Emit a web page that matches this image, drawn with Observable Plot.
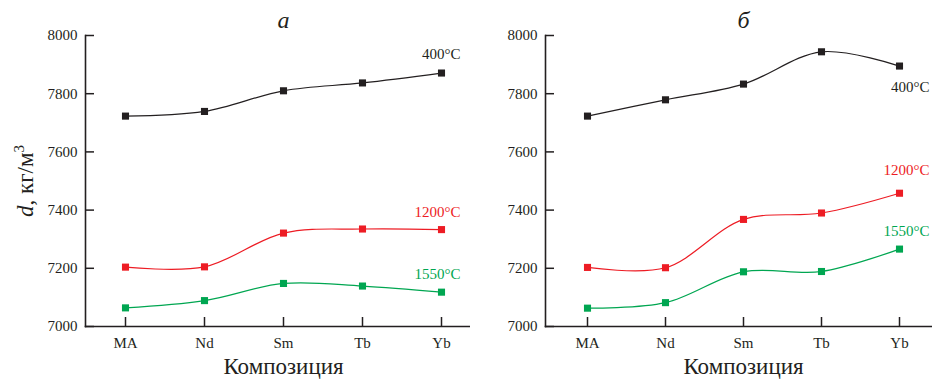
<!DOCTYPE html>
<html><head><meta charset="utf-8">
<script src="https://cdn.jsdelivr.net/npm/d3@7"></script>
<script src="https://cdn.jsdelivr.net/npm/@observablehq/plot@0.6"></script>
<style>
body{margin:0;background:#fff;}
#wrap{position:relative;width:932px;height:380px;display:flex;}
#wrap svg{display:block;}
</style></head><body><div id="wrap"></div>
<script>
const categories = ["MA", "Nd", "Sm", "Tb", "Yb"];
const temps = ["400°C", "1200°C", "1550°C"];
const yTicks = [7000, 7200, 7400, 7600, 7800, 8000];
// panel а
const a400 = [7723, 7739, 7810, 7837, 7871];
const a1200 = [7204, 7205, 7321, 7335, 7333];
const a1550 = [7064, 7089, 7148, 7139, 7118];
// panel б
const b400 = [7723, 7779, 7833, 7944, 7895];
const b1200 = [7203, 7202, 7368, 7390, 7458];
const b1550 = [7063, 7082, 7188, 7189, 7266];
const panelTitles = ["а", "б"];
const xLabel = "Композиция";

const colors = ["#231f20", "#ed1c24", "#00a651"];
const FONT = "'Liberation Serif', 'Times New Roman', serif";
const HEIGHT = 380, MT = 35, MB = 54, TICK = 9;

function toRows(seriesList) {
  const rows = [];
  seriesList.forEach((vals, i) => vals.forEach((v, j) => rows.push({temp: temps[i], cat: categories[j], value: v})));
  return rows;
}

function panel(title, seriesList, cfg) {
  const rows = toRows(seriesList);
  const last = rows.filter(d => d.cat === categories[categories.length - 1]);
  const labelMarks = last.map((d, i) => Plot.text([d], {
    x: "cat", y: "value", text: "temp", fill: "temp",
    textAnchor: "end", dx: cfg.labelDx, dy: cfg.labelDy[i], fontSize: 15
  }));
  return Plot.plot({
    width: cfg.width, height: HEIGHT,
    marginLeft: cfg.marginLeft, marginRight: 0, marginTop: MT, marginBottom: MB,
    style: {fontFamily: FONT, fontSize: "15px", color: "#231f20", background: "#fff"},
    x: {type: "point", domain: categories, range: cfg.xRange, padding: 0},
    y: {domain: [7000, 8000]},
    color: {domain: temps, range: colors},
    marks: [
      Plot.frame({anchor: "left", stroke: "#231f20", strokeWidth: 1.6}),
      Plot.frame({anchor: "bottom", stroke: "#231f20", strokeWidth: 1.6}),
      Plot.axisY({ticks: yTicks, tickSize: 0, tickPadding: 8, label: null, tickFormat: d => String(d), fill: "#231f20"}),
      Plot.axisX({tickSize: 0, tickPadding: 11, label: null, fill: "#231f20"}),
      Plot.line(rows, {x: "cat", y: "value", z: "temp", stroke: "temp", curve: "catmull-rom", strokeWidth: 1.2}),
      Plot.dot(rows, {x: "cat", y: "value", fill: "temp", symbol: "square", r: 4}),
      ...labelMarks,
      Plot.text([title], {x: () => "Sm", frameAnchor: "top", lineAnchor: "middle", dy: -15, text: d => d, fontSize: 24, fontStyle: "italic", fill: "#231f20"}),
      Plot.text([xLabel], {x: () => "Sm", frameAnchor: "bottom", lineAnchor: "middle", dy: 40, text: d => d, fontSize: 23, fill: "#231f20"}),
      // inward tick marks: outward axis ticks shifted by their own length
      Plot.axisY({ticks: yTicks, tickSize: TICK, dx: TICK, tickFormat: () => "", label: null, stroke: "#231f20", strokeWidth: 1.5}),
      Plot.axisX({tickSize: TICK, dy: -TICK, tickFormat: () => "", label: null, stroke: "#231f20", strokeWidth: 1.5})
    ]
  });
}

const wrap = document.getElementById("wrap");
const left = panel(panelTitles[0], [a400, a1200, a1550], {
  width: 470, marginLeft: 85, xRange: [125, 441], labelDx: 19, labelDy: [-19, -17, -18]
});
const right = panel(panelTitles[1], [b400, b1200, b1550], {
  width: 462, marginLeft: 75, xRange: [115, 430], labelDx: 30, labelDy: [21, -23, -18]
});
wrap.appendChild(left);
wrap.appendChild(right);

// y-axis title with italic d and superscript 3
const t = d3.select(left).append("text")
  .attr("transform", "translate(33,181) rotate(-90)")
  .attr("text-anchor", "middle")
  .attr("font-family", FONT)
  .attr("font-size", 23)
  .attr("fill", "#231f20");
t.append("tspan").attr("font-style", "italic").text("d");
t.append("tspan").text(", кг/м");
t.append("tspan").attr("font-size", 15).attr("dy", -9).text("3");
</script>
</body></html>
